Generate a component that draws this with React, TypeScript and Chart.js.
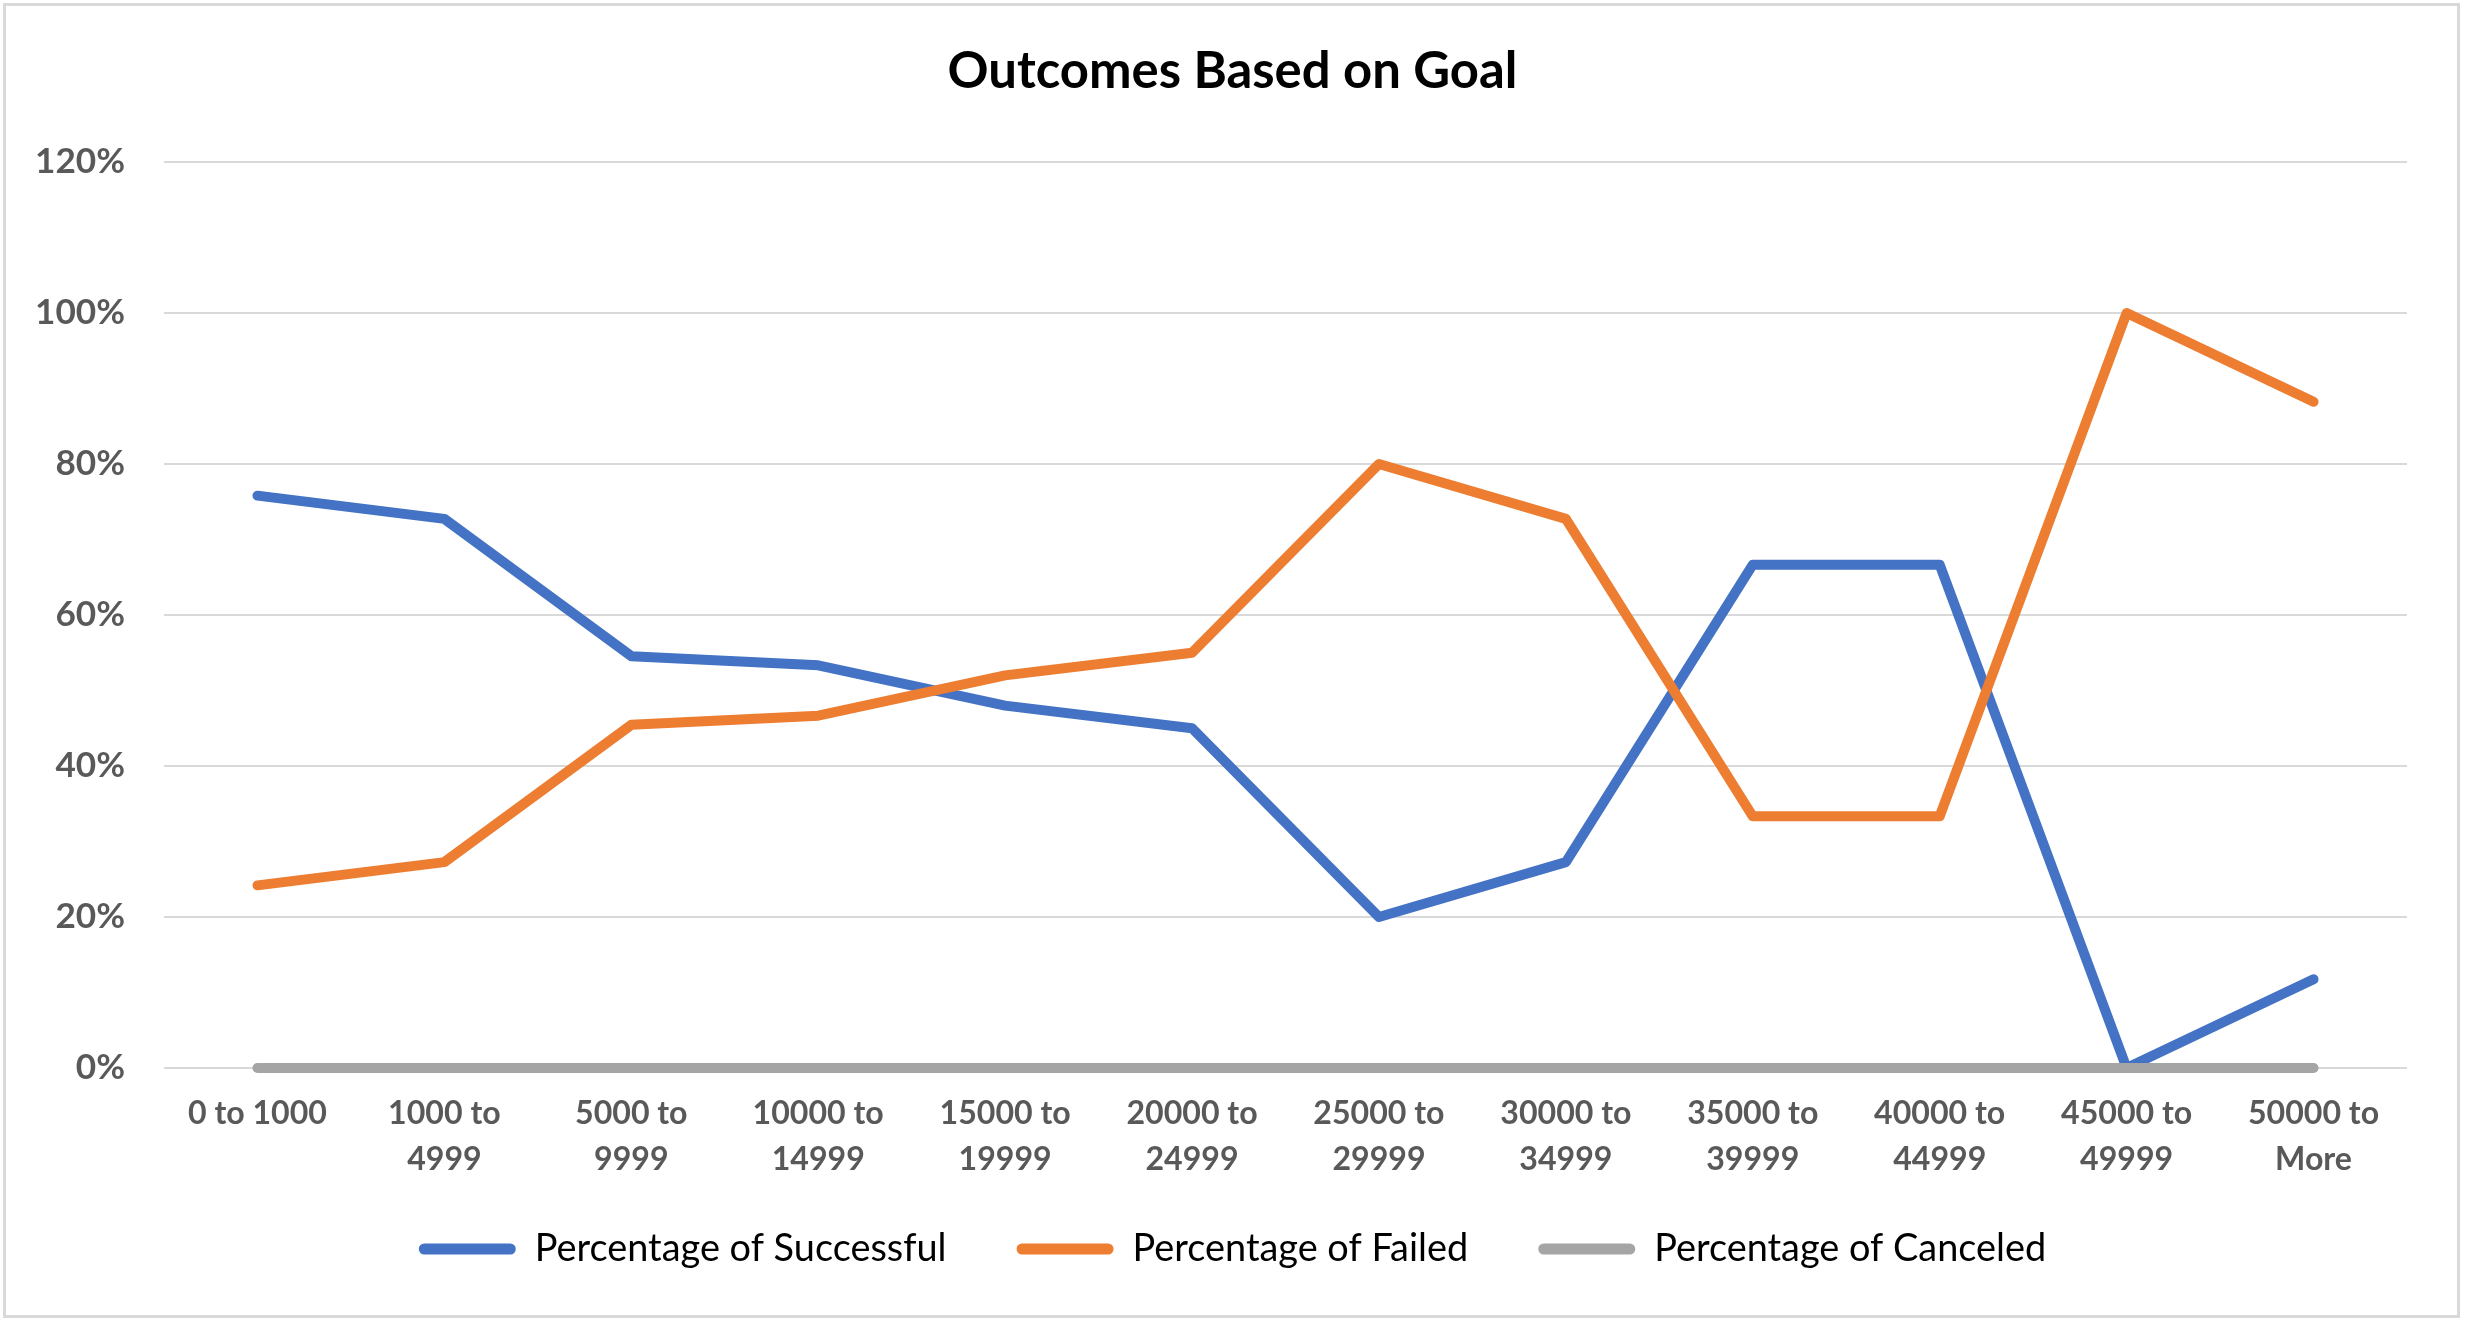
import { useEffect, useRef } from 'react';
import { Chart, registerables } from 'chart.js';

Chart.register(...registerables);

const chartTitle = 'Outcomes Based on Goal';
const categories: (string | string[])[] = [
  '0 to 1000',
  ['1000 to', '4999'],
  ['5000 to', '9999'],
  ['10000 to', '14999'],
  ['15000 to', '19999'],
  ['20000 to', '24999'],
  ['25000 to', '29999'],
  ['30000 to', '34999'],
  ['35000 to', '39999'],
  ['40000 to', '44999'],
  ['45000 to', '49999'],
  ['50000 to', 'More'],
];
const seriesNames = ['Percentage of Successful', 'Percentage of Failed', 'Percentage of Canceled'];
const successful = [75.81, 72.73, 54.55, 53.33, 48.0, 45.0, 20.0, 27.27, 66.67, 66.67, 0, 11.76];
const failed = [24.19, 27.27, 45.45, 46.67, 52.0, 55.0, 80.0, 72.73, 33.33, 33.33, 100, 88.24];
const canceled = [0, 0, 0, 0, 0, 0, 0, 0, 0, 0, 0, 0];
const yTickValues = [0, 20, 40, 60, 80, 100, 120];

const FAMILY = 'Lato, "Open Sans", sans-serif';
const W = 2465;
const H = 1320;

function fitSize(text: string, weight: string, target: number): number {
  const c = document.createElement('canvas').getContext('2d')!;
  c.font = `${weight} 100px ${FAMILY}`;
  return (100 * target) / c.measureText(text).width;
}

export default function App() {
  const ref = useRef<HTMLCanvasElement | null>(null);

  useEffect(() => {
    document.body.style.margin = '0';
    const canvas = ref.current;
    if (!canvas) return;

    const titleSize = fitSize(chartTitle, 'bold', 570);
    const yTickSize = fitSize('120%', 'bold', 90);
    const xTickSize = fitSize('0 to 1000', 'bold', 139);
    const legendSize = fitSize(seriesNames[0], 'normal', 412);

    const chartTop = 162;
    const chartBottom = 1068;
    const chartLeft = 164;
    const chartRight = 2407;

    const titleTop = 72 - 0.6 * titleSize;
    const titleBottom = chartTop - titleTop - 1.2 * titleSize;

    const boxW = 97;
    const legendPad = 598 - boxW - legendSize / 2 - 412;
    const legendCenter = 1249;
    const legendTop = legendCenter - legendSize / 2 - legendPad;
    const legendBottom = legendCenter + legendSize / 2 + 10;
    const xAxisHeight = legendTop - chartBottom;
    const bottomPad = H - legendBottom;

    const frame = {
      id: 'frame',
      afterLayout(chart: any) {
        // let the two-line tick labels extend below the axis box without being clipped
        const xs = chart.scales.x;
        if (xs) xs.bottom = xs.top + 140;
      },
      beforeDraw(chart: Chart) {
        const ctx = chart.ctx;
        ctx.save();
        ctx.fillStyle = '#ffffff';
        ctx.fillRect(0, 0, chart.width, chart.height);
        ctx.strokeStyle = '#d9d9d9';
        ctx.lineWidth = 3;
        ctx.strokeRect(4.5, 4.5, 2454, 1312);
        ctx.restore();
      },
    };

    const colors = ['#4472C4', '#ED7D31', '#A5A5A5'];
    const values = [successful, failed, canceled];

    const chart = new Chart(canvas, {
      type: 'line',
      data: {
        labels: categories,
        datasets: values.map((v, i) => ({
          label: seriesNames[i],
          data: v,
          yAxisID: 'y',
          borderColor: colors[i],
          backgroundColor: colors[i],
          borderWidth: 10,
          borderCapStyle: 'round' as const,
          borderJoinStyle: 'round' as const,
          pointRadius: 0,
          pointHoverRadius: 0,
          tension: 0,
          fill: false,
          clip: false as any,
          order: 2 - i,
        })),
      },
      options: {
        animation: false,
        responsive: false,
        devicePixelRatio: 1,
        layout: { padding: { left: 0, right: 0, top: 0, bottom: bottomPad } },
        plugins: {
          tooltip: { enabled: false },
          title: {
            display: true,
            text: chartTitle,
            color: '#000000',
            font: { family: FAMILY, size: titleSize, weight: 'bold', lineHeight: 1.2 },
            padding: { top: titleTop, bottom: titleBottom },
          },
          legend: {
            display: true,
            position: 'bottom',
            align: 'center',
            labels: {
              color: '#000000',
              font: { family: FAMILY, size: legendSize, weight: 'normal' },
              boxWidth: boxW,
              boxHeight: 11,
              padding: legendPad,
              sort: (a: any, b: any) => a.datasetIndex - b.datasetIndex,
              generateLabels: (c: Chart) =>
                Chart.defaults.plugins.legend.labels.generateLabels(c).map((l: any) => ({
                  ...l,
                  fillStyle: colors[l.datasetIndex],
                  lineWidth: 0,
                  borderRadius: 5.5,
                })),
            },
          },
        },
        scales: {
          x: {
            type: 'category',
            offset: true,
            grid: { display: false, drawTicks: false },
            border: { display: false },
            ticks: {
              color: '#595959',
              padding: 23,
              maxRotation: 0,
              minRotation: 0,
              autoSkip: false,
              font: { family: FAMILY, size: xTickSize, weight: 'bold', lineHeight: 46 / xTickSize },
            },
            afterFit: (s: any) => {
              s.height = xAxisHeight;
            },
          },
          y: {
            type: 'linear',
            position: 'left',
            min: yTickValues[0],
            max: yTickValues[yTickValues.length - 1],
            grid: { color: '#d9d9d9', lineWidth: 2, drawTicks: false },
            border: { display: false },
            ticks: {
              stepSize: yTickValues[1] - yTickValues[0],
              color: '#595959',
              padding: chartLeft - 125,
              font: { family: FAMILY, size: yTickSize, weight: 'bold' },
              callback: (v: any) => `${Math.round(Number(v))}%`,
            },
            afterFit: (s: any) => {
              s.width = chartLeft;
            },
          },
          yRight: {
            type: 'linear',
            position: 'right',
            display: true,
            grid: { display: false, drawTicks: false },
            border: { display: false },
            ticks: { display: false },
            afterFit: (s: any) => {
              s.width = W - chartRight;
            },
          },
        },
      },
      plugins: [frame],
    });

    return () => chart.destroy();
  }, []);

  return (
    <div style={{ position: 'absolute', left: 0, top: 0, width: W, height: H }}>
      <canvas ref={ref} width={W} height={H} style={{ width: W, height: H, display: 'block' }} />
    </div>
  );
}
